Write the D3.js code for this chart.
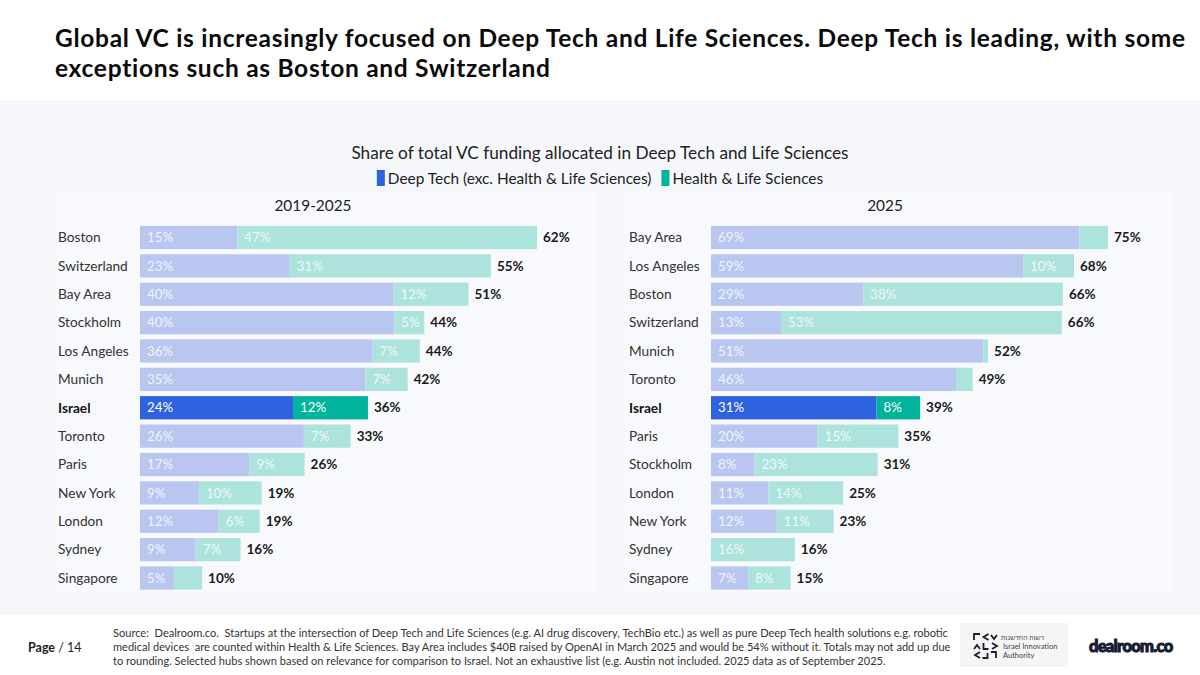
<!DOCTYPE html>
<html>
<head>
<meta charset="utf-8">
<script src="https://d3js.org/d3.v7.min.js"></script>
<style>
  body { margin: 0; background: #fff; }
  svg text { font-family: Lato, "Open Sans", sans-serif; white-space: pre; }
</style>
</head>
<body>
<div id="chart"></div>
<script>
// 2019-2025 panel
const citiesAll = ["Boston", "Switzerland", "Bay Area", "Stockholm", "Los Angeles", "Munich", "Israel",
                   "Toronto", "Paris", "New York", "London", "Sydney", "Singapore"];
const deepAll   = [15.2, 23.4, 39.6, 39.7, 36.3, 35.2, 23.9, 25.6, 17.1, 9.2, 12.3, 8.7, 5.3];
const healthAll = [46.8, 31.4, 11.7, 4.7, 7.4, 6.6, 11.7, 7.3, 8.6, 9.8, 6.4, 7.0, 4.4];

// 2025 panel
const cities2025 = ["Bay Area", "Los Angeles", "Boston", "Switzerland", "Munich", "Toronto", "Israel",
                    "Paris", "Stockholm", "London", "New York", "Sydney", "Singapore"];
const deep2025   = [69.4, 58.8, 28.7, 13.2, 51.3, 46.3, 31.2, 20.1, 8.2, 10.8, 12.4, 0, 7.0];
const health2025 = [5.4, 9.6, 37.6, 52.9, 0.9, 3.0, 8.2, 15.2, 23.2, 14.1, 10.7, 15.8, 8.0];

const seriesNames = ["Deep Tech (exc. Health & Life Sciences)", "Health & Life Sciences"];
const highlight = "Israel";

const W = 1200, H = 675;
const colors = {
  deepLight: "#b9c7f0", healthLight: "#ade3dd",
  deepDark: "#2f62df", healthDark: "#00b39b"
};

const svg = d3.select("#chart").append("svg")
  .attr("width", W)
  .attr("height", H);

// stretch a text node's letter spacing so it spans a given width
function fitWidth(sel, width) {
  const n = sel.text().length;
  const len = sel.node().getComputedTextLength();
  sel.attr("letter-spacing", (width - len) / (n - 1));
}

// backgrounds
svg.append("rect").attr("width", W).attr("height", H).attr("fill", "#fff");
svg.append("rect").attr("x", 0).attr("y", 100).attr("width", W).attr("height", 515).attr("fill", "#f6f7fb");
svg.append("rect").attr("x", 55).attr("y", 192).attr("width", 542).attr("height", 402).attr("fill", "#f8f9fc");
svg.append("rect").attr("x", 625).attr("y", 192).attr("width", 548).attr("height", 402).attr("fill", "#f8f9fc");

// headline
const titleLines = [
  "Global VC is increasingly focused on Deep Tech and Life Sciences. Deep Tech is leading, with some",
  "exceptions such as Boston and Switzerland"
];
const titleEls = svg.append("g").selectAll("text")
  .data(titleLines)
  .join("text")
  .attr("x", 55)
  .attr("y", (d, i) => 47 + i * 30)
  .attr("font-size", 24.5).attr("font-weight", 700).attr("fill", "#0a0a0a")
  .text(d => d);
fitWidth(d3.select(titleEls.nodes()[0]), 1130);
d3.select(titleEls.nodes()[1]).attr("letter-spacing", d3.select(titleEls.nodes()[0]).attr("letter-spacing"));

// chart title
svg.append("text")
  .attr("x", 600).attr("y", 159)
  .attr("text-anchor", "middle")
  .attr("font-size", 17.2).attr("fill", "#222")
  .text("Share of total VC funding allocated in Deep Tech and Life Sciences");

// legend, centred
const legend = svg.append("g");
let lx = 0;
seriesNames.forEach((name, i) => {
  legend.append("rect")
    .attr("x", lx).attr("y", 170).attr("width", 8).attr("height", 16)
    .attr("fill", i === 0 ? colors.deepDark : colors.healthDark);
  const t = legend.append("text")
    .attr("x", lx + 11).attr("y", 184)
    .attr("font-size", 15.4).attr("fill", "#222")
    .text(name);
  lx += 11 + t.node().getComputedTextLength() + 10;
});
const lw = lx - 10;
legend.attr("transform", `translate(${600 - lw / 2},0)`);

function drawPanel(cats, deep, health, o) {
  const g = svg.append("g");
  const rows = cats.map((c, i) => ({ city: c, deep: deep[i], health: health[i], total: deep[i] + health[i] }));

  const x = d3.scaleLinear()
    .domain([0, d3.max(rows, d => d.total)])
    .range([o.x0, o.x0 + 397]);

  const y = d3.scaleBand()
    .domain(cats)
    .range([223.3, 592.2])
    .paddingInner(0.18)
    .paddingOuter(0.09);

  g.append("text")
    .attr("x", o.titleX).attr("y", 211)
    .attr("text-anchor", "middle")
    .attr("font-size", 15.4).attr("fill", "#222")
    .text(o.title);

  const row = g.selectAll("g.row")
    .data(rows)
    .join("g")
    .attr("class", "row");

  row.append("text")
    .attr("x", o.labelX)
    .attr("y", d => y(d.city) + y.bandwidth() / 2)
    .attr("dy", "0.35em")
    .attr("font-size", 13.7)
    .attr("font-weight", d => d.city === highlight ? 700 : 400)
    .attr("fill", d => d.city === highlight ? "#111" : "#333")
    .text(d => d.city);

  const segs = row.selectAll("g.seg")
    .data(d => [
      { city: d.city, key: "deep", v0: 0, v1: d.deep, v: d.deep },
      { city: d.city, key: "health", v0: d.deep, v1: d.total, v: d.health }
    ])
    .join("g")
    .attr("class", "seg");

  segs.append("rect")
    .attr("x", d => x(d.v0))
    .attr("y", d => y(d.city))
    .attr("width", d => x(d.v1) - x(d.v0))
    .attr("height", y.bandwidth())
    .attr("fill", d => {
      const hl = d.city === highlight;
      if (d.key === "deep") return hl ? colors.deepDark : colors.deepLight;
      return hl ? colors.healthDark : colors.healthLight;
    });

  segs.filter(d => x(d.v1) - x(d.v0) >= 29.5)
    .append("text")
    .attr("x", d => x(d.v0) + 7)
    .attr("y", d => y(d.city) + y.bandwidth() / 2)
    .attr("dy", "0.35em")
    .attr("font-size", 13.3)
    .attr("fill", "#fff")
    .attr("fill-opacity", d => d.city === highlight ? 1 : 0.8)
    .text(d => Math.round(d.v) + "%");

  row.append("text")
    .attr("x", d => x(d.total) + 6)
    .attr("y", d => y(d.city) + y.bandwidth() / 2)
    .attr("dy", "0.35em")
    .attr("font-size", 13.5)
    .attr("font-weight", 700)
    .attr("fill", "#1a1a1a")
    .text(d => Math.round(d.total) + "%");
}

drawPanel(citiesAll, deepAll, healthAll, { x0: 140, labelX: 58, title: "2019-2025", titleX: 313 });
drawPanel(cities2025, deep2025, health2025, { x0: 711, labelX: 629, title: "2025", titleX: 885 });

// footer
const page = svg.append("text").attr("x", 28).attr("y", 652).attr("font-size", 12.5).attr("fill", "#222");
page.append("tspan").attr("font-weight", 700).text("Page");
page.append("tspan").text(" / 14");

const sourceLines = [
  "Source:  Dealroom.co.  Startups at the intersection of Deep Tech and Life Sciences (e.g. AI drug discovery, TechBio etc.) as well as pure Deep Tech health solutions e.g. robotic",
  "medical devices  are counted within Health & Life Sciences. Bay Area includes $40B raised by OpenAI in March 2025 and would be 54% without it. Totals may not add up due",
  "to rounding. Selected hubs shown based on relevance for comparison to Israel. Not an exhaustive list (e.g. Austin not included. 2025 data as of September 2025."
];
svg.append("g").selectAll("text")
  .data(sourceLines)
  .join("text")
  .attr("x", 113)
  .attr("y", (d, i) => 637 + i * 14)
  .attr("font-size", 11.05)
  .attr("fill", "#333")
  .text(d => d);

// Israel Innovation Authority mark
svg.append("rect").attr("x", 960).attr("y", 623).attr("width", 108).attr("height", 44).attr("fill", "#f5f5f6");
const glyphs = [
  "M0,6 V0 H6", "M6,0 L1,3 L6,6", "M0,1 L3,5 L6,1",
  "M0,6 L3,2 L6,6", "M1,0 V6 H6", "M1,0 L6,3 L1,6",
  "M6,0 L1,3 L6,6", "M0,6 H5 V1", "M0,0 H5 V6"
];
svg.append("g").selectAll("path")
  .data(glyphs)
  .join("path")
  .attr("transform", (d, i) => `translate(${974 + (i % 3) * 8.5},${634 + Math.floor(i / 3) * 9})`)
  .attr("d", d => d)
  .attr("fill", "none")
  .attr("stroke", "#1b2030")
  .attr("stroke-width", 1.8);
const iiaText = svg.append("g").attr("font-size", 7.5).attr("fill", "#444");
iiaText.append("text").attr("x", 1044).attr("y", 640).attr("text-anchor", "end")
  .attr("font-family", "'Noto Sans', sans-serif").attr("font-size", 7)
  .text("רשות החדשנות");
iiaText.append("text").attr("x", 1003).attr("y", 649).text("Israel Innovation");
iiaText.append("text").attr("x", 1003).attr("y", 657.5).text("Authority");

// dealroom wordmark
svg.append("text")
  .attr("x", 1089).attr("y", 652)
  .attr("font-size", 16.5).attr("font-weight", 900)
  .attr("letter-spacing", -0.7)
  .attr("fill", "#161b33")
  .attr("stroke", "#161b33").attr("stroke-width", 1)
  .text("dealroom.co");
</script>
</body>
</html>
